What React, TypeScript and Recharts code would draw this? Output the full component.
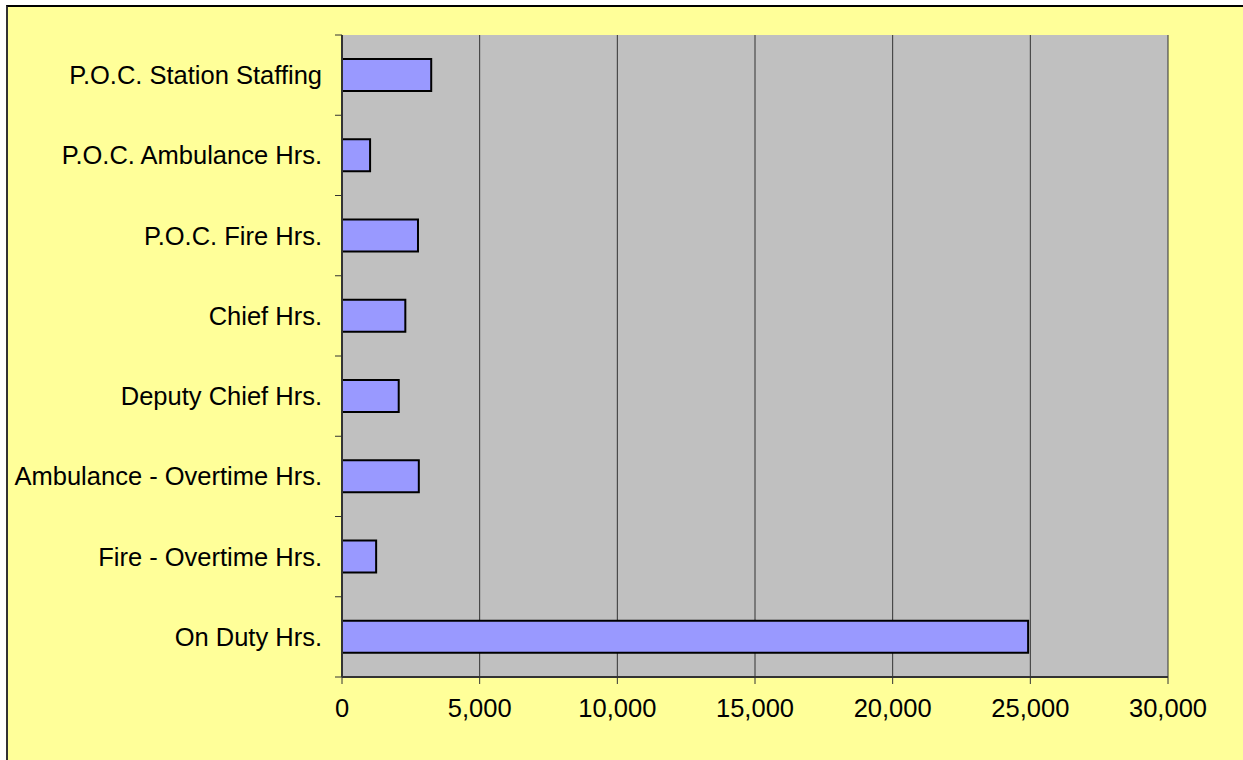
import { BarChart, Bar, XAxis, YAxis, CartesianGrid } from "recharts";

const categories = [
  "P.O.C. Station Staffing",
  "P.O.C. Ambulance Hrs.",
  "P.O.C. Fire Hrs.",
  "Chief Hrs.",
  "Deputy Chief Hrs.",
  "Ambulance - Overtime Hrs.",
  "Fire - Overtime Hrs.",
  "On Duty Hrs.",
];

const hours = [3240, 1020, 2760, 2300, 2060, 2790, 1240, 24920];

const xTicks = [0, 5000, 10000, 15000, 20000, 25000, 30000];

const data = categories.map((name, i) => ({ name, hours: hours[i] }));

const W = 1243;
const H = 760;
const margin = { top: 35, right: 75, left: 0, bottom: 43 };
const yAxisWidth = 342;
const xAxisHeight = 40;
const tickLen = 7;
const yTickMargin = 13;
const fontSize = 25.5;
const font = "'Liberation Sans', Arial, sans-serif";

const band = (H - margin.top - margin.bottom - xAxisHeight) / categories.length;

// Excel puts the category ticks on the band boundaries, not the centers
const CategoryTick = (props: any) => {
  const { x, y, payload, index } = props;
  const axisX = x + yTickMargin + tickLen;
  return (
    <g>
      <line x1={axisX - tickLen} x2={axisX} y1={y - band / 2} y2={y - band / 2} stroke="#333" strokeWidth={1} />
      {index === categories.length - 1 && (
        <line x1={axisX - tickLen} x2={axisX} y1={y + band / 2} y2={y + band / 2} stroke="#333" strokeWidth={1} />
      )}
      <text x={x} y={y} dy="0.35em" textAnchor="end" fontSize={fontSize} fontFamily={font} fill="#000">
        {payload.value}
      </text>
    </g>
  );
};

export default function App() {
  return (
    <div style={{ position: "absolute", left: 0, top: 0, width: W, height: H, background: "#fff", overflow: "hidden" }}>
      <div
        style={{
          position: "absolute",
          left: 6,
          top: 5,
          width: W,
          height: H,
          background: "#FFFF99",
          borderTop: "2px solid #000",
          borderLeft: "2px solid #333",
        }}
      />
      <div style={{ position: "absolute", left: 0, top: 0 }}>
        <BarChart width={W} height={H} data={data} layout="vertical" margin={margin} barCategoryGap="30%">
          <CartesianGrid horizontal={false} fill="#C0C0C0" stroke="#333" strokeWidth={1} />
          <XAxis
            type="number"
            domain={[0, 30000]}
            ticks={xTicks}
            height={xAxisHeight}
            tickSize={tickLen}
            tickMargin={15}
            tickFormatter={(v: number) => v.toLocaleString("en-US")}
            tick={{ fontSize, fontFamily: font, fill: "#000" }}
            axisLine={{ stroke: "#333", strokeWidth: 2 }}
            tickLine={{ stroke: "#333" }}
          />
          <XAxis
            xAxisId="top"
            orientation="top"
            type="number"
            domain={[0, 30000]}
            height={0}
            tick={false}
            tickLine={false}
            axisLine={{ stroke: "#808080", strokeWidth: 2 }}
          />
          <YAxis
            type="category"
            dataKey="name"
            width={yAxisWidth}
            tickSize={tickLen}
            tickMargin={yTickMargin}
            tickLine={false}
            tick={<CategoryTick />}
            interval={0}
            axisLine={{ stroke: "#333", strokeWidth: 2 }}
          />
          <YAxis
            yAxisId="right"
            orientation="right"
            type="category"
            dataKey="name"
            width={0}
            tick={false}
            tickLine={false}
            axisLine={{ stroke: "#808080", strokeWidth: 2 }}
          />
          <Bar dataKey="hours" fill="#9999FF" stroke="#000" strokeWidth={2} isAnimationActive={false} />
        </BarChart>
      </div>
    </div>
  );
}
